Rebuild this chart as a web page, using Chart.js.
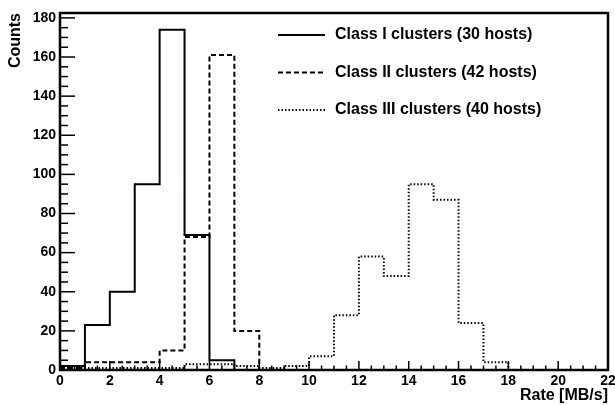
<!DOCTYPE html>
<html>
<head>
<meta charset="utf-8">
<script src="https://cdn.jsdelivr.net/npm/chart.js@4/dist/chart.umd.min.js"></script>
<style>
    html, body { margin: 0; padding: 0; background: #fff; }
    #wrap { width: 615px; height: 405px; }
</style>
</head>
<body>
<div id="wrap"><canvas id="chartCanvasId"></canvas></div>
<script>
"use strict";

// lower edge of each 1 MB/s bin
const binEdges = [0, 1, 2, 3, 4, 5, 6, 7, 8, 9, 10, 11, 12, 13, 14, 15, 16, 17, 18, 19, 20, 21];
const classI = [2, 23, 40, 95, 174, 69, 5, 0, 0, 0, 0, 0, 0, 0, 0, 0, 0, 0, 0, 0, 0, 0];
const classII = [1, 4, 4, 4, 10, 68, 161, 20, 0, 0, 0, 0, 0, 0, 0, 0, 0, 0, 0, 0, 0, 0];
const classIII = [1, 1, 1, 1, 1, 3, 3, 2, 1, 2, 7, 28, 58, 48, 95, 87, 24, 4, 0, 0, 0, 0];
const seriesNames = ["Class I clusters (30 hosts)", "Class II clusters (42 hosts)", "Class III clusters (40 hosts)"];
const xMax = 22;
const yTicks = [0, 20, 40, 60, 80, 100, 120, 140, 160, 180];

const FONT = "'Liberation Sans', Arial, Helvetica, sans-serif";

function histPoints(counts) {
    const pts = counts.map((c, i) => ({ x: binEdges[i], y: c }));
    pts.push({ x: xMax, y: counts[counts.length - 1] });
    return pts;
}

const rootFrame = {
    id: "rootFrame",
    afterDraw(chart) {
        const { ctx, chartArea: a, scales: { x, y } } = chart;
        ctx.save();
        ctx.strokeStyle = "#000";
        ctx.lineWidth = 1.5;
        for (let v = 0; v <= xMax + 0.001; v += 0.5) {
            const px = x.getPixelForValue(v);
            const len = v % 2 === 0 ? 9 : 4.5;
            ctx.beginPath();
            ctx.moveTo(px, a.bottom);
            ctx.lineTo(px, a.bottom - len);
            ctx.stroke();
        }
        for (let v = 0; v <= 180; v += 5) {
            const py = y.getPixelForValue(v);
            const len = v % 20 === 0 ? 15 : 8;
            ctx.beginPath();
            ctx.moveTo(a.left, py);
            ctx.lineTo(a.left + len, py);
            ctx.stroke();
        }
        ctx.lineWidth = 2.5;
        ctx.strokeRect(a.left, a.top, a.right - a.left, a.bottom - a.top);

        // legend
        ctx.font = "bold 16px " + FONT;
        ctx.fillStyle = "#000";
        ctx.textBaseline = "middle";
        chart.data.datasets.forEach((ds, i) => {
            const ly = 35 + i * 37.5;
            ctx.lineWidth = ds.borderWidth;
            ctx.setLineDash(ds.borderDash || []);
            ctx.beginPath();
            ctx.moveTo(278, ly);
            ctx.lineTo(325, ly);
            ctx.stroke();
            ctx.setLineDash([]);
            ctx.fillText(ds.label, 335, ly);
        });
        ctx.restore();
    }
};

function initialize() {
    const chartContext = document.getElementById("chartCanvasId").getContext("2d");

    const styles = [
        { borderDash: [] },
        { borderDash: [5, 3] },
        { borderDash: [1.5, 2] },
    ];

    new Chart(chartContext, {
        type: "line",
        data: {
            datasets: [classI, classII, classIII].map((counts, i) => ({
                label: seriesNames[i],
                data: histPoints(counts),
                stepped: "before",
                borderColor: "#000",
                borderWidth: 2,
                borderDash: styles[i].borderDash,
                pointRadius: 0,
                fill: false,
            })),
        },
        options: {
            responsive: true,
            maintainAspectRatio: false,
            animation: false,
            layout: { padding: { top: 13, right: 7, left: 0, bottom: 0 } },
            plugins: {
                legend: { display: false },
                tooltip: { enabled: false },
            },
            scales: {
                x: {
                    type: "linear",
                    min: 0,
                    max: xMax,
                    grid: { display: false, drawTicks: false },
                    border: { display: false },
                    ticks: {
                        stepSize: 2,
                        autoSkip: false,
                        maxRotation: 0,
                        padding: 3,
                        color: "#000",
                        font: { family: FONT, size: 14, weight: "bold" },
                    },
                    title: {
                        display: true,
                        text: "Rate [MB/s]",
                        align: "end",
                        color: "#000",
                        padding: { top: 0, bottom: 0 },
                        font: { family: FONT, size: 16, weight: "bold" },
                    },
                    afterFit(scale) {
                        scale.height = 35;
                        scale.paddingLeft = 0;
                        scale.paddingRight = 0;
                    },
                },
                y: {
                    min: 0,
                    max: 182.5,
                    grid: { display: false, drawTicks: false },
                    border: { display: false },
                    afterBuildTicks(scale) {
                        scale.ticks = yTicks.map(v => ({ value: v }));
                    },
                    ticks: {
                        padding: 4,
                        color: "#000",
                        font: { family: FONT, size: 14, weight: "bold" },
                    },
                    title: {
                        display: true,
                        text: "Counts",
                        align: "end",
                        color: "#000",
                        padding: { top: 6, bottom: 0 },
                        font: { family: FONT, size: 16, weight: "bold" },
                    },
                    afterFit(scale) {
                        scale.width = 60;
                        scale.paddingTop = 0;
                        scale.paddingBottom = 0;
                    },
                },
            },
        },
        plugins: [rootFrame],
    });
}

initialize();
</script>
</body>
</html>
